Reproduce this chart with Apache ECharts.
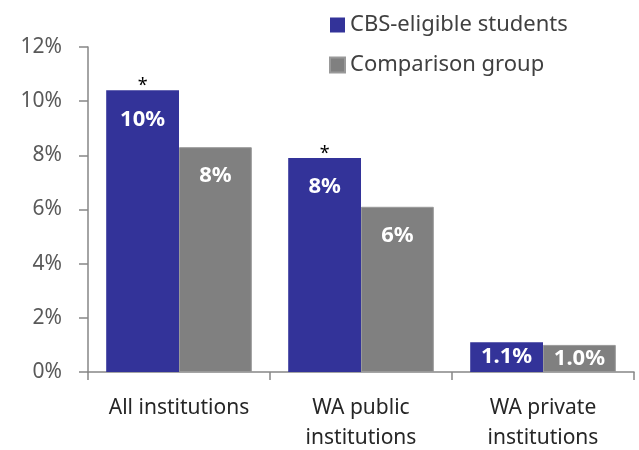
<!DOCTYPE html>
<html>
<head>
<meta charset="utf-8">
<script src="https://cdn.jsdelivr.net/npm/echarts@6/dist/echarts.min.js"></script>
<style>
  html, body { margin: 0; padding: 0; background: #fff; }
  #chart { width: 639px; height: 450px; }
</style>
</head>
<body>
<div id="chart"></div>
<script>
// 数据
const categories = ['All institutions', 'WA public\ninstitutions', 'WA private\ninstitutions']
const seriesNames = ['CBS-eligible students', 'Comparison group']
const cbsValues = [10.4, 7.9, 1.1]
const compValues = [8.3, 6.1, 1.0]
const cbsLabels = ['10%', '8%', '1.1%']
const compLabels = ['8%', '6%', '1.0%']
const significant = [true, true, false] // 带星号的柱子
const yTicks = [0, 2, 4, 6, 8, 10, 12]

const font = 'Noto Sans'
const chart = echarts.init(document.getElementById('chart'))

function barData (values, labels) {
  return values.map((v, i) => ({
    value: v,
    label: {
      formatter: labels[i],
      position: v < 3 ? 'inside' : 'insideTop',
      distance: 18
    }
  }))
}

const starPoints = significant
  .map((s, i) => s ? { coord: [i, cbsValues[i]] } : null)
  .filter(p => p)

const option = {
  animation: false,
  textStyle: { fontFamily: font },
  legend: {
    orient: 'vertical',
    left: 324,
    top: 8,
    itemWidth: 15,
    itemHeight: 15,
    itemGap: 16,
    icon: 'rect',
    textStyle: { fontSize: 22, color: '#404040', fontFamily: font, lineHeight: 24 },
    data: seriesNames
  },
  grid: { left: 88, right: 5, top: 47, bottom: 78, outerBoundsMode: 'none', containLabel: false },
  xAxis: {
    type: 'category',
    data: categories,
    axisLine: { lineStyle: { color: '#868686', width: 1.5 } },
    axisTick: { show: true, length: 8, lineStyle: { color: '#868686', width: 1.5 } },
    axisLabel: { interval: 0, fontSize: 21, color: '#262626', lineHeight: 30, margin: 21, fontFamily: font }
  },
  yAxis: {
    type: 'value',
    min: yTicks[0],
    max: yTicks[yTicks.length - 1],
    interval: 2,
    axisLine: { show: true, lineStyle: { color: '#868686', width: 1.5 } },
    axisTick: { show: true, inside: false, length: 9, lineStyle: { color: '#868686', width: 1.5 } },
    splitLine: { show: false },
    axisLabel: { fontSize: 21, color: '#595959', margin: 26, formatter: '{value}%', fontFamily: font }
  },
  series: [
    {
      name: seriesNames[0],
      type: 'bar',
      barGap: '0%',
      barCategoryGap: '20%',
      itemStyle: { color: '#333399' },
      label: { show: true, color: '#fff', fontWeight: 'bold', fontSize: 22, fontFamily: font },
      data: barData(cbsValues, cbsLabels),
      markPoint: {
        symbol: 'circle',
        symbolSize: 0,
        label: { show: true, formatter: '*', color: '#000', fontSize: 18, offset: [0, -4], fontFamily: font },
        data: starPoints
      }
    },
    {
      name: seriesNames[1],
      type: 'bar',
      itemStyle: { color: '#808080', borderColor: '#999', borderWidth: 1 },
      label: { show: true, color: '#fff', fontWeight: 'bold', fontSize: 22, fontFamily: font },
      data: barData(compValues, compLabels)
    }
  ]
}
chart.setOption(option)
</script>
</body>
</html>
